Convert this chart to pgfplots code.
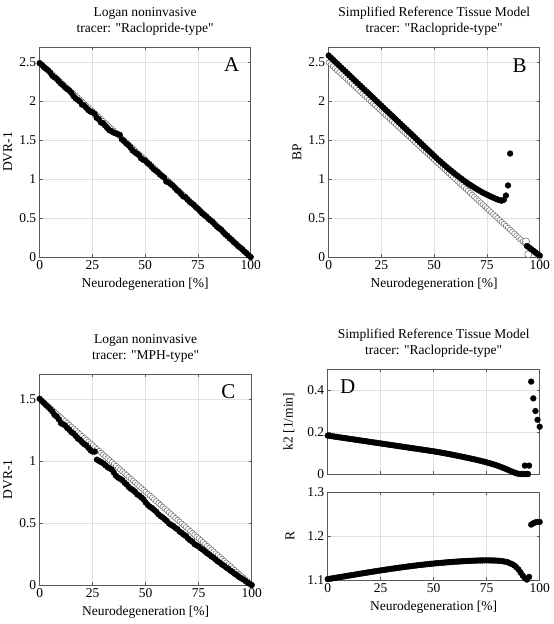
\documentclass[border=0pt]{standalone}
\usepackage{fontspec}
\setmainfont{Liberation Serif}
\newfontfamily\pf{Liberation Serif}[Ligatures=NoCommon]
\usepackage{pgfplots}
\usepackage{pgfplotstable}
\pgfplotsset{compat=1.18}

\pgfplotstableread{
x i25 i15 af cf bf k2 R
0 2.500 1.500 2.49 1.500 2.590 0.1830 1.1020
1 2.475 1.485 2.47 1.483 2.564 0.1815 1.1028
2 2.450 1.470 2.44 1.467 2.538 0.1800 1.1036
3 2.425 1.455 2.42 1.450 2.513 0.1785 1.1044
4 2.400 1.440 2.40 1.434 2.487 0.1770 1.1052
5 2.375 1.425 2.37 1.417 2.461 0.1755 1.1060
6 2.350 1.410 2.33 1.398 2.435 0.1740 1.1068
7 2.325 1.395 2.31 1.370 2.409 0.1725 1.1076
8 2.300 1.380 2.29 1.358 2.384 0.1710 1.1084
9 2.275 1.365 2.26 1.335 2.358 0.1695 1.1092
10 2.250 1.350 2.23 1.305 2.332 0.1680 1.1100
11 2.225 1.335 2.21 1.295 2.306 0.1665 1.1108
12 2.200 1.320 2.18 1.285 2.280 0.1650 1.1116
13 2.175 1.305 2.16 1.265 2.255 0.1635 1.1124
14 2.150 1.290 2.14 1.250 2.229 0.1620 1.1132
15 2.125 1.275 2.11 1.230 2.203 0.1605 1.1140
16 2.100 1.260 2.07 1.220 2.177 0.1590 1.1148
17 2.075 1.245 2.04 1.200 2.151 0.1575 1.1156
18 2.050 1.230 2.02 1.180 2.126 0.1560 1.1164
19 2.025 1.215 2.00 1.170 2.100 0.1545 1.1172
20 2.000 1.200 1.96 1.150 2.074 0.1530 1.1180
21 1.975 1.185 1.95 1.135 2.048 0.1515 1.1188
22 1.950 1.170 1.92 1.125 2.022 0.1500 1.1195
23 1.925 1.155 1.89 1.105 1.997 0.1485 1.1203
24 1.900 1.140 1.87 1.085 1.971 0.1470 1.1210
25 1.875 1.125 1.86 1.075 1.945 0.1455 1.1218
26 1.850 1.110 1.84 1.075 1.919 0.1440 1.1225
27 1.825 1.095 1.79 1.010 1.893 0.1425 1.1232
28 1.800 1.080 1.77 1.000 1.868 0.1410 1.1240
29 1.775 1.065 1.73 0.990 1.842 0.1395 1.1247
30 1.750 1.050 1.72 0.980 1.816 0.1380 1.1254
31 1.725 1.035 1.69 0.965 1.790 0.1365 1.1261
32 1.700 1.020 1.66 0.950 1.764 0.1350 1.1268
33 1.675 1.005 1.63 0.940 1.739 0.1335 1.1275
34 1.650 0.990 1.62 0.930 1.713 0.1320 1.1282
35 1.625 0.975 1.60 0.905 1.687 0.1305 1.1288
36 1.600 0.960 1.59 0.880 1.661 0.1290 1.1295
37 1.575 0.945 1.58 0.865 1.635 0.1275 1.1301
38 1.550 0.930 1.57 0.855 1.610 0.1260 1.1308
39 1.525 0.915 1.51 0.845 1.584 0.1245 1.1314
40 1.500 0.900 1.49 0.825 1.558 0.1230 1.1320
41 1.475 0.885 1.46 0.810 1.532 0.1215 1.1326
42 1.450 0.870 1.44 0.790 1.506 0.1200 1.1332
43 1.425 0.855 1.41 0.775 1.481 0.1185 1.1338
44 1.400 0.840 1.37 0.765 1.455 0.1170 1.1343
45 1.375 0.825 1.35 0.750 1.429 0.1155 1.1349
46 1.350 0.810 1.33 0.730 1.403 0.1140 1.1354
47 1.325 0.795 1.31 0.720 1.377 0.1125 1.1359
48 1.300 0.780 1.27 0.705 1.352 0.1110 1.1364
49 1.275 0.765 1.25 0.690 1.326 0.1095 1.1369
50 1.250 0.750 1.24 0.665 1.300 0.1080 1.1374
51 1.225 0.735 1.21 0.645 1.275 0.1063 1.1379
52 1.200 0.720 1.19 0.630 1.250 0.1046 1.1383
53 1.175 0.705 1.16 0.620 1.226 0.1028 1.1388
54 1.150 0.690 1.13 0.605 1.202 0.1010 1.1392
55 1.125 0.675 1.11 0.590 1.178 0.0992 1.1396
56 1.100 0.660 1.09 0.570 1.155 0.0973 1.1400
57 1.075 0.645 1.06 0.555 1.132 0.0954 1.1404
58 1.050 0.630 1.04 0.545 1.110 0.0934 1.1408
59 1.025 0.615 1.02 0.530 1.088 0.0914 1.1411
60 1.000 0.600 0.97 0.515 1.066 0.0894 1.1415
61 0.975 0.585 0.96 0.495 1.045 0.0874 1.1418
62 0.950 0.570 0.94 0.485 1.024 0.0853 1.1421
63 0.925 0.555 0.92 0.475 1.004 0.0832 1.1424
64 0.900 0.540 0.89 0.460 0.984 0.0811 1.1427
65 0.875 0.525 0.86 0.450 0.965 0.0790 1.1430
66 0.850 0.510 0.84 0.430 0.946 0.0768 1.1432
67 0.825 0.495 0.81 0.420 0.928 0.0746 1.1435
68 0.800 0.480 0.78 0.405 0.910 0.0724 1.1437
69 0.775 0.465 0.77 0.395 0.893 0.0701 1.1439
70 0.750 0.450 0.74 0.375 0.876 0.0678 1.1441
71 0.725 0.435 0.71 0.360 0.860 0.0655 1.1443
72 0.700 0.420 0.69 0.350 0.844 0.0631 1.1444
73 0.675 0.405 0.67 0.330 0.829 0.0606 1.1445
74 0.650 0.390 0.64 0.320 0.815 0.0580 1.1446
75 0.625 0.375 0.62 0.310 0.801 0.0553 1.1446
76 0.600 0.360 0.59 0.295 0.788 0.0525 1.1446
77 0.575 0.345 0.56 0.285 0.775 0.0496 1.1445
78 0.550 0.330 0.54 0.270 0.763 0.0466 1.1444
79 0.525 0.315 0.52 0.255 0.751 0.0434 1.1442
80 0.500 0.300 0.49 0.245 0.740 0.0400 1.1439
81 0.475 0.285 0.47 0.230 0.731 0.0364 1.1435
82 0.450 0.270 0.45 0.220 0.724 0.0326 1.1430
83 0.425 0.255 0.42 0.205 0.735 0.0286 1.1423
84 0.400 0.240 0.39 0.190 0.790 0.0244 1.1414
85 0.375 0.225 0.37 0.180 0.920 0.0200 1.1402
86 0.350 0.210 0.35 0.165 1.330 0.0155 1.1380
87 0.325 0.195 0.32 0.155 nan 0.0110 1.1360
88 0.300 0.180 0.29 0.140 nan 0.0070 1.1330
89 0.275 0.165 0.27 0.130 nan 0.0035 1.1290
90 0.250 0.150 0.24 0.115 nan 0.0010 1.1240
91 0.225 0.135 0.22 0.105 nan 0.0000 1.1170
92 0.200 0.120 0.19 0.090 nan 0.0000 1.1100
93 0.175 0.105 0.17 0.080 nan 0.0400 1.1040
94 0.150 0.090 0.14 0.065 0.140 0.0000 1.1010
95 0.125 0.075 0.12 0.055 0.120 0.0400 1.1070
96 0.100 0.060 0.10 0.045 0.100 0.4400 1.2260
97 0.075 0.045 0.07 0.033 0.080 0.3600 1.2290
98 0.050 0.030 0.05 0.020 0.060 0.3000 1.2310
99 0.025 0.015 0.02 0.010 0.040 0.2580 1.2320
100 0.000 0.000 0.00 0.000 0.020 0.2250 1.2320
}\data

\pgfplotsset{
  panel/.style={
    scale only axis, anchor=south west,
    xmin=0, xmax=100, xtick={0,25,50,75,100},
    grid=major, major grid style={black!12, line width=0.4pt},
    axis line style={black!65, line width=0.5pt},
    tick style={black!65, line width=0.5pt},
    tick align=inside, major tick length=3bp,
    font=\fontsize{13.5bp}{16bp}\selectfont,
    /pgf/number format/assume math mode=true,
    ticklabel style={font=\fontsize{13.5bp}{16bp}\selectfont},
    title style={align=center, font=\fontsize{13.5bp}{16.5bp}\selectfont, yshift=2bp},
    label style={font=\fontsize{13.5bp}{16bp}\selectfont},
    xlabel style={yshift=-2bp},
    clip=false,
  },
  openm/.style={only marks, mark=*, mark size=2.7bp,
    mark options={draw=black!60, fill=white, line width=0.5pt}},
  fillm/.style={only marks, mark=*, mark size=2.9bp,
    mark options={draw=black, fill=black}},
}
\newcommand{\q}{{\pf "}}

\begin{document}
\begin{tikzpicture}
\path (0bp,0bp) rectangle (548bp,624bp);

% Panel A
\begin{axis}[panel, at={(36bp,367bp)}, width=211bp, height=210bp,
  ymin=0, ymax=2.7, ytick={0,0.5,1,1.5,2,2.5},
  title={Logan noninvasive\\tracer: \q Raclopride-type\q},
  xlabel={Neurodegeneration [\%]}, ylabel={DVR-1}]
\addplot[openm] table[x=x, y=i25] {\data};
\addplot[fillm] table[x=x, y=af] {\data};
\node[font=\fontsize{21bp}{24bp}\selectfont] at (axis cs:91,2.47) {A};
\end{axis}

% Panel B
\begin{axis}[panel, at={(325bp,367bp)}, width=211bp, height=210bp,
  ymin=0, ymax=2.7, ytick={0,0.5,1,1.5,2,2.5},
  title={Simplified Reference Tissue Model\\tracer: \q Raclopride-type\q},
  xlabel={Neurodegeneration [\%]}, ylabel={BP}]
\addplot[openm] table[x=x, y=i25] {\data};
\addplot[openm, mark size=3.6bp] coordinates {(93.5,0.20) (94.6,0.035)};
\addplot[fillm] table[x=x, y=bf] {\data};
\node[font=\fontsize{21bp}{24bp}\selectfont] at (axis cs:90.5,2.46) {B};
\end{axis}

% Panel C
\begin{axis}[panel, at={(36bp,39bp)}, width=212bp, height=211bp,
  ymin=0, ymax=1.7, ytick={0,0.5,1,1.5},
  title={Logan noninvasive\\tracer: \q MPH-type\q},
  xlabel={Neurodegeneration [\%]}, ylabel={DVR-1}]
\addplot[openm] table[x=x, y=i15] {\data};
\addplot[fillm] table[x=x, y=cf] {\data};
\node[font=\fontsize{21bp}{24bp}\selectfont] at (axis cs:89,1.555) {C};
\end{axis}

% Panel D top
\begin{axis}[panel, at={(324bp,150bp)}, width=212bp, height=105bp,
  ymin=0, ymax=0.5, ytick={0,0.2,0.4}, xticklabels={},
  title={Simplified Reference Tissue Model\\tracer: \q Raclopride-type\q},
  ylabel={k2 [1/min]}, ylabel style={at={(axis description cs:-0.14,0.5)}}]
\addplot[fillm] table[x=x, y=k2] {\data};
\addplot[fillm] coordinates {(92.5,0) (93,0) (93.6,0) (94.5,0)};
\node[font=\fontsize{21bp}{24bp}\selectfont] at (axis cs:9.5,0.415) {D};
\end{axis}

% Panel D bottom
\begin{axis}[panel, at={(324bp,44bp)}, width=212bp, height=88bp,
  ymin=1.1, ymax=1.3, ytick={1.1,1.2,1.3},
  xlabel={Neurodegeneration [\%]}, ylabel={R},
  ylabel style={at={(axis description cs:-0.14,0.5)}}]
\addplot[fillm] table[x=x, y=R] {\data};
\end{axis}
\end{tikzpicture}
\end{document}
